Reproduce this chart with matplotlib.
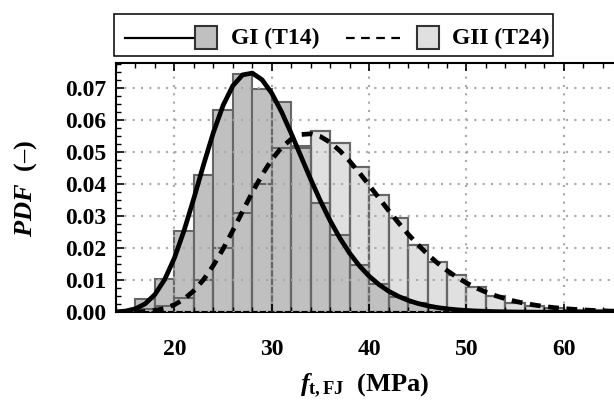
import matplotlib
matplotlib.use('Agg')
import matplotlib.pyplot as plt
from matplotlib.lines import Line2D
from matplotlib.patches import Rectangle
from matplotlib.ticker import MultipleLocator, FormatStrFormatter

plt.rcParams['font.family'] = ['Liberation Serif', 'DejaVu Serif']
plt.rcParams['font.weight'] = 'bold'
plt.rcParams['mathtext.fontset'] = 'custom'
plt.rcParams['mathtext.rm'] = 'Liberation Serif:bold'
plt.rcParams['mathtext.it'] = 'Liberation Serif:italic:bold'
plt.rcParams['mathtext.bf'] = 'Liberation Serif:bold'

# ---------------- data ----------------
bin_left = [14, 16, 18, 20, 22, 24, 26, 28, 30, 32, 34, 36, 38, 40, 42, 44,
            46, 48, 50, 52, 54, 56, 58, 60, 62]
bin_width = 2
gi_hist = [0.0, 0.0042, 0.0105, 0.0255, 0.0429, 0.0633, 0.0744, 0.0698, 0.0658,
           0.0521, 0.0341, 0.0242, 0.0147, 0.0088, 0.0049, 0.0028, 0.0015, 0.0008,
           0.0004, 0.0002, 0.0001, 0.0, 0.0, 0.0, 0.0]
gii_hist = [0.0, 0.0009, 0.0020, 0.0044, 0.0101, 0.0200, 0.0309, 0.0400, 0.0513,
            0.0513, 0.0565, 0.0528, 0.0453, 0.0368, 0.0294, 0.0210, 0.0158, 0.0117,
            0.0080, 0.0050, 0.0028, 0.0019, 0.0012, 0.0008, 0.0006]

curve_x = [14, 15, 16, 17, 18, 19, 20, 21, 22, 23, 24, 25, 26, 27, 28, 29, 30,
           31, 32, 33, 34, 35, 36, 37, 38, 39, 40, 41, 42, 43, 44, 45, 46, 47,
           48, 49, 50, 51, 52, 53, 54, 55, 56, 57, 58, 59, 60, 61, 62, 63, 64,
           65, 66]
gi_curve = [0.00011, 0.00039, 0.00111, 0.00267, 0.00557, 0.01026, 0.01698,
            0.02562, 0.03565, 0.04618, 0.05618, 0.06465, 0.07080, 0.07419,
            0.07474, 0.07268, 0.06846, 0.06267, 0.05590, 0.04871, 0.04155,
            0.03477, 0.02859, 0.02314, 0.01845, 0.01452, 0.01129, 0.00869,
            0.00661, 0.00499, 0.00373, 0.00277, 0.00204, 0.00149, 0.00109,
            0.00079, 0.00057, 0.00041, 0.00029, 0.00021, 0.00015, 0.00010,
            0.00007, 0.00005, 0.00004, 0.00002, 0.00002, 0.00001, 0.00001,
            0.0, 0.0, 0.0, 0.0]
gii_curve = [0.00001, 0.00003, 0.00009, 0.00024, 0.00058, 0.00123, 0.00236,
             0.00415, 0.00675, 0.01025, 0.01464, 0.01982, 0.02555, 0.03155,
             0.03747, 0.04296, 0.04771, 0.05148, 0.05412, 0.05555, 0.05578,
             0.05492, 0.05308, 0.05046, 0.04723, 0.04359, 0.03970, 0.03574,
             0.03181, 0.02802, 0.02445, 0.02115, 0.01815, 0.01545, 0.01307,
             0.01098, 0.00916, 0.00761, 0.00629, 0.00517, 0.00423, 0.00344,
             0.00280, 0.00226, 0.00182, 0.00146, 0.00117, 0.00094, 0.00075,
             0.00059, 0.00047, 0.00037, 0.00029]

labels = ['GI (T14)', 'GII (T24)']
xticks = [20, 30, 40, 50, 60]
yticks = [0.00, 0.01, 0.02, 0.03, 0.04, 0.05, 0.06, 0.07]

# ---------------- style ----------------
c_gi = '#c0c0c0'
c_gii = '#e0e0e0'
c_edge = '#666666'

W, H = 614, 412
fig = plt.figure(figsize=(W / 100, H / 100), dpi=100)
ax = fig.add_axes([116 / W, 1 - 312.3 / H, 497.5 / W, (312.3 - 62.7) / H])

def fx(px):
    return px / W

def fy(py):
    return 1 - py / H

ax.bar(bin_left, gii_hist, width=bin_width, align='edge', color=c_gii,
       edgecolor=c_edge, linewidth=1.5, zorder=1)
ax.bar(bin_left, gi_hist, width=bin_width, align='edge', color=c_gi,
       edgecolor=c_edge, linewidth=1.5, zorder=1.1)
ax.bar(bin_left, gii_hist, width=bin_width, align='edge', fill=False,
       edgecolor=c_edge, linewidth=1.5, zorder=1.2)

ax.plot(curve_x, gi_curve, color='black', lw=3.4, zorder=3,
        solid_capstyle='butt', solid_joinstyle='round')
ax.plot(curve_x, gii_curve, color='black', lw=3.4, zorder=3,
        linestyle=(0, (2.3, 1.6)), dash_capstyle='butt')

ax.set_xlim(14, 65.1)
ax.set_ylim(0, 0.078)
ax.set_xticks(xticks)
ax.set_yticks(yticks)
ax.xaxis.set_minor_locator(MultipleLocator(2))
ax.yaxis.set_minor_locator(MultipleLocator(0.0025))
ax.yaxis.set_major_formatter(FormatStrFormatter('%.2f'))

ax.set_axisbelow(False)
ax.grid(True, which='major', color='#a8a8a8', linestyle=(0, (1, 3)),
        linewidth=1.5)

ax.tick_params(which='both', direction='in', top=True, bottom=True,
               left=True, right=False)
ax.tick_params(which='major', length=6, width=1.2, labelsize=17)
ax.tick_params(which='minor', length=3.5, width=1.0)
ax.tick_params(axis='x', which='major', pad=19)
ax.tick_params(axis='y', which='major', pad=7)
for lab in ax.get_xticklabels() + ax.get_yticklabels():
    lab.set_fontweight('bold')

for s in ['left', 'top', 'bottom']:
    ax.spines[s].set_linewidth(1.5)
ax.spines['right'].set_visible(False)

# axis labels
fig.text(fx(26), fy(188), r'$PDF$  (–)', rotation=90, ha='center',
         va='center', fontsize=19, fontweight='bold')
fig.text(fx(365), fy(386), r'$f_{\mathbf{t,FJ}}$  (MPa)', ha='center',
         va='center', fontsize=19, fontweight='bold')

# legend (drawn by hand)
fig.add_artist(Rectangle((fx(113.5), fy(55.5)), (553 - 113.5) / W,
                         (55.5 - 13.5) / H, transform=fig.transFigure,
                         facecolor='white', edgecolor='black', lw=1.1))
fig.add_artist(Line2D([fx(125), fx(193)], [fy(38), fy(38)],
                      transform=fig.transFigure, color='black', lw=1.6))
fig.add_artist(Rectangle((fx(195), fy(49)), 22 / W, 23 / H,
                         transform=fig.transFigure, facecolor=c_gi,
                         edgecolor='#333333', lw=1.5))
fig.text(fx(231), fy(38), labels[0], ha='left', va='center', fontsize=17,
         fontweight='bold')
fig.add_artist(Line2D([fx(346), fx(401)], [fy(38), fy(38)],
                      transform=fig.transFigure, color='black', lw=1.6,
                      linestyle=(0, (3.9, 2.9)), dash_capstyle='butt'))
fig.add_artist(Rectangle((fx(417), fy(49)), 22 / W, 23 / H,
                         transform=fig.transFigure, facecolor=c_gii,
                         edgecolor='#333333', lw=1.5))
fig.text(fx(452), fy(38), labels[1], ha='left', va='center', fontsize=17,
         fontweight='bold')

fig.savefig('out.png', dpi=100)
